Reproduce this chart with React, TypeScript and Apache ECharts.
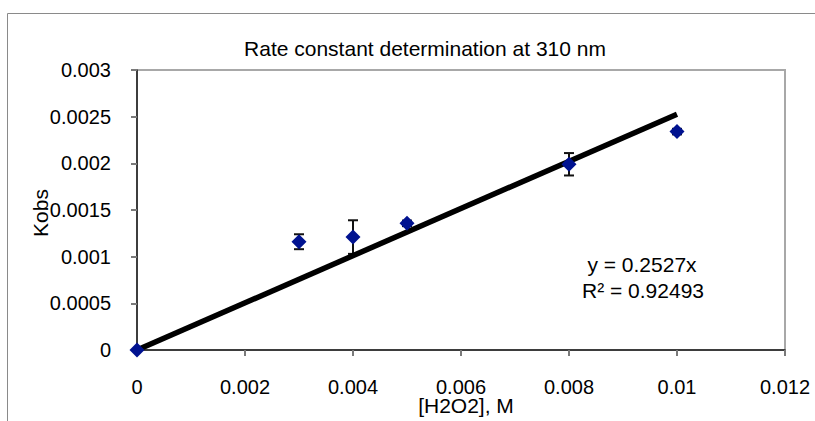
import React, { useEffect, useRef } from "react";
import * as echarts from "echarts";

const concentrations = [0, 0.003, 0.004, 0.005, 0.008, 0.01];
const kobs = [0, 0.00116, 0.00121, 0.001357, 0.00199, 0.00234];
const errors = [0, 0.00008, 0.00018, 0.00003, 0.00012, 0.00003];
const trendX = [0, 0.01];
const trendY = [0, 0.002527];
const titleText = "Rate constant determination at 310 nm";
const xName = "[H2O2], M";
const yName = "Kobs";
const equationLines = ["y = 0.2527x", "R² = 0.92493"];

const FONT = "'Liberation Sans', Arial, sans-serif";

export default function App() {
  const ref = useRef<HTMLDivElement>(null);
  useEffect(() => {
    if (!ref.current) return;
    const chart = echarts.init(ref.current, null, { renderer: "svg" });
    const fmt = (v: number) => (v === 0 ? "0" : String(+v.toFixed(5)));
    const option: any = {
      animation: false,
      backgroundColor: "#ffffff",
      textStyle: { fontFamily: FONT },
      grid: {
        left: 137,
        right: 30,
        top: 70,
        bottom: 71,
        show: true,
        borderColor: "#a8a8a8",
        borderWidth: 2,
        backgroundColor: "transparent",
      },
      xAxis: {
        type: "value",
        min: 0,
        max: 0.012,
        interval: 0.002,
        splitLine: { show: false },
        axisLine: { show: true, onZero: false, lineStyle: { color: "#1a1a1a", width: 1.5 } },
        axisTick: { show: true, inside: false, length: 6, lineStyle: { color: "#7a7a7a", width: 2 } },
        axisLabel: { margin: 27, fontSize: 20, color: "#000", fontFamily: FONT, formatter: fmt },
      },
      yAxis: {
        type: "value",
        min: 0,
        max: 0.003,
        interval: 0.0005,
        splitLine: { show: false },
        axisLine: { show: true, onZero: false, lineStyle: { color: "#1a1a1a", width: 1.5 } },
        axisTick: { show: true, inside: false, length: 6, lineStyle: { color: "#7a7a7a", width: 2 } },
        axisLabel: { margin: 26, fontSize: 20, color: "#000", fontFamily: FONT, formatter: fmt },
      },
      graphic: [
        {
          type: "polyline",
          shape: { points: [[7.5, 421], [7.5, 13.5], [815, 13.5]] },
          style: { stroke: "#8a8a8a", lineWidth: 1, fill: null },
          silent: true,
        },
        {
          type: "text",
          x: 425,
          y: 48,
          style: { text: titleText, font: `21px ${FONT}`, fill: "#000", textAlign: "center", textVerticalAlign: "middle" },
        },
        {
          type: "text",
          x: 40,
          y: 213,
          rotation: Math.PI / 2,
          style: { text: yName, font: `21px ${FONT}`, fill: "#000", textAlign: "center", textVerticalAlign: "middle" },
        },
        {
          type: "text",
          x: 466,
          y: 405,
          style: { text: xName, font: `21px ${FONT}`, fill: "#000", textAlign: "center", textVerticalAlign: "middle" },
        },
        {
          type: "text",
          x: 642,
          y: 264,
          style: { text: equationLines[0], font: `21px ${FONT}`, fill: "#000", textAlign: "center", textVerticalAlign: "middle" },
        },
        {
          type: "text",
          x: 643,
          y: 290,
          style: { text: equationLines[1], font: `21px ${FONT}`, fill: "#000", textAlign: "center", textVerticalAlign: "middle" },
        },
      ],
      series: [
        {
          type: "custom",
          name: "error",
          z: 1,
          data: concentrations.map((c, i) => [c, kobs[i] - errors[i], kobs[i] + errors[i]]),
          renderItem: (params: any, api: any) => {
            const lo = api.coord([api.value(0), api.value(1)]);
            const hi = api.coord([api.value(0), api.value(2)]);
            const w = 5;
            const style = { stroke: "#111", lineWidth: 2 };
            return {
              type: "group",
              children: [
                { type: "line", shape: { x1: lo[0], y1: lo[1], x2: hi[0], y2: hi[1] }, style },
                { type: "line", shape: { x1: lo[0] - w, y1: lo[1], x2: lo[0] + w, y2: lo[1] }, style },
                { type: "line", shape: { x1: hi[0] - w, y1: hi[1], x2: hi[0] + w, y2: hi[1] }, style },
              ],
            };
          },
        },
        {
          type: "line",
          name: "trend",
          z: 2,
          data: trendX.map((x, i) => [x, trendY[i]]),
          showSymbol: false,
          symbol: "none",
          lineStyle: { color: "#000", width: 5.5 },
        },
        {
          type: "scatter",
          name: "Kobs",
          z: 3,
          data: concentrations.map((c, i) => [c, kobs[i]]),
          symbol: "diamond",
          symbolSize: 15,
          itemStyle: { color: "#001290", opacity: 1 },
        },
      ],
    };
    chart.setOption(option);
    return () => chart.dispose();
  }, []);
  return (
    <div
      ref={ref}
      style={{ position: "fixed", left: 0, top: 0, width: 815, height: 421 }}
    />
  );
}
